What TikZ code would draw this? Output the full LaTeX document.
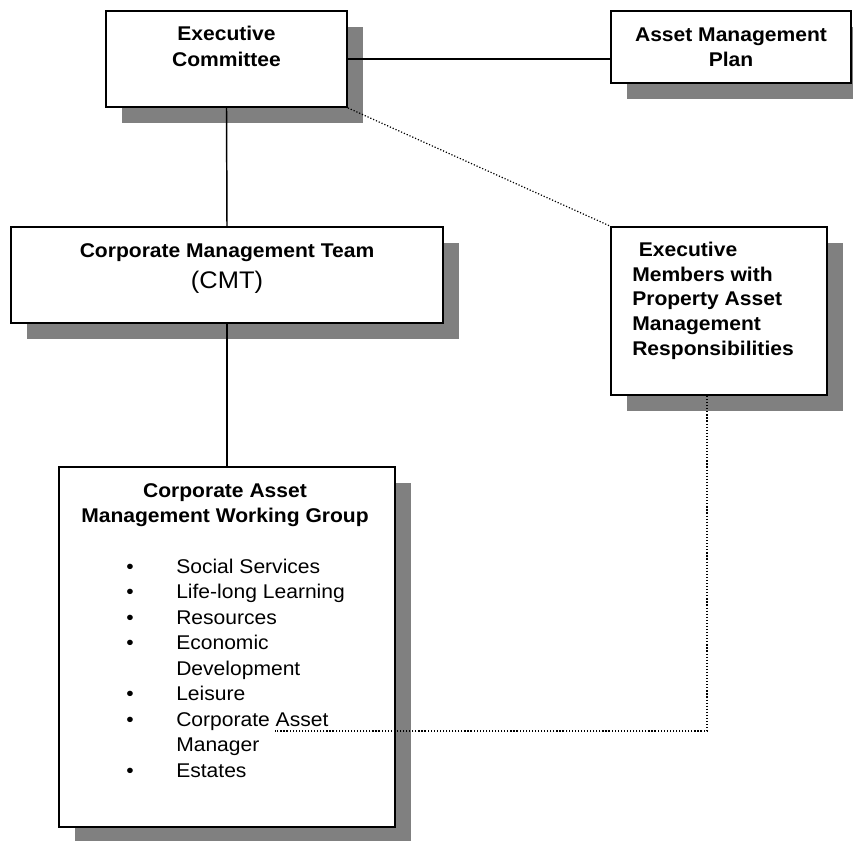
\documentclass[tikz,border=0pt]{standalone}
\usepackage{fontspec}
\setmainfont{Liberation Sans}[FakeStretch=1.06]
\usetikzlibrary{shadows,fit}

\begin{document}
\begin{tikzpicture}[x=0.75pt,y=-0.75pt,
  box/.style={draw=black, line width=1.4pt, fill=white, inner sep=0pt,
    copy shadow={shadow xshift=12pt, shadow yshift=-12pt, fill=black!50, draw=none}},
  head/.style={font=\fontsize{14.9}{19}\selectfont\bfseries, align=center, inner sep=0pt},
  plain/.style={font=\fontsize{14.9}{19.15}\selectfont, inner sep=0pt},
  link/.style={line width=1.1pt},
  dots/.style={line width=0.9pt, dash pattern=on 0.9pt off 1.4pt}]

\useasboundingbox (0,0) rectangle (853,840);

% boxes
\node[box, fit={(106,11) (347,107)}] (ec) {};
\node[box, fit={(611,11) (851,83)}] (amp) {};
\node[box, fit={(11,227) (443,323)}] (cmt) {};
\node[box, fit={(611,227) (827,395)}] (em) {};
\node[box, fit={(59,467) (395,827)}] (wg) {};

% box texts (a multi-line node sits on the baseline of its last line)
\node[head, anchor=base] (ectext) at (226.5,66) {Executive\\Committee};
\node[head, anchor=base] (amptext) at (731,66.7) {Asset Management\\Plan};
\node[head, anchor=base] (cmttitle) at (227,257.7) {Corporate Management Team};
\node[plain, font=\fontsize{18}{21}\selectfont, anchor=base] (cmtabbr) at (227,288) {(CMT)};
\node[head, align=left, anchor=base west, font=\fontsize{14.9}{18.4}\selectfont\bfseries]
  (emtext) at (632,355)
  {\hspace*{5pt}Executive\\Members with\\Property Asset\\Management\\Responsibilities};
\node[head, anchor=base] (wgtitle) at (225,522.7) {Corporate Asset\\Management Working Group};
\node[plain, anchor=base west] (wglist) at (126,573) {%
  \begin{tabular}[t]{@{}p{37.5pt}@{}l@{}}
    \textbullet & Social Services\\
    \textbullet & Life-long Learning\\
    \textbullet & Resources\\
    \textbullet & Economic\\
                & Development\\
    \textbullet & Leisure\\
    \textbullet & Corporate Asset\\
                & Manager\\
    \textbullet & Estates
  \end{tabular}};

% connectors
\coordinate (turn) at (707,731);
\coordinate (listend) at (275,731);
\draw[link] (ec.east) -- (ec.east -| amp.west);
\draw[link] (ec.south) -- (cmt.north);
\draw[link] (cmt.south) -- (wg.north);
\draw[dots] (ec.south east) -- (em.north west);
\draw[dots] (em.south -| turn) -- (turn) -- (listend);

\end{tikzpicture}
\end{document}
